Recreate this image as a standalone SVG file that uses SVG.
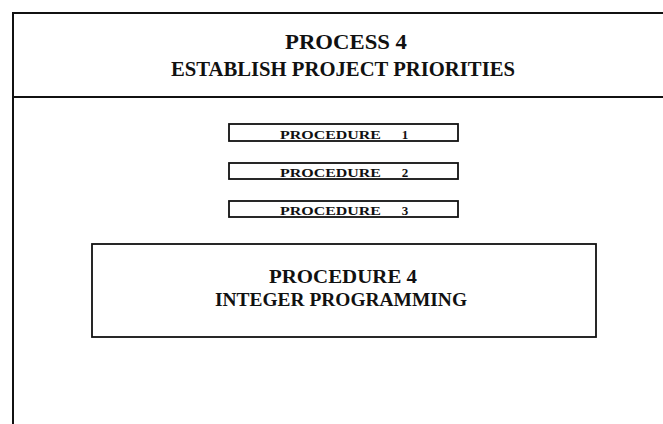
<svg xmlns="http://www.w3.org/2000/svg" width="663" height="424" viewBox="0 0 663 424">
<style>
.ln{stroke:#111;stroke-width:2;fill:none}
.box{stroke:#111;stroke-width:1.8;fill:#fff}
.t{font-family:"Liberation Serif",serif;font-weight:bold;fill:#111;text-anchor:middle}
.title{font-size:21px}
.sm{font-size:13px}
.big{font-size:19.5px}
</style>
<rect width="663" height="424" fill="#fff"/>
<g id="frame">
<path class="ln" d="M13,424 V13 H663"/>
<path class="ln" d="M13,97 H663"/>
</g>
<g id="process4">
<text class="t title" x="346" y="49" textLength="122" lengthAdjust="spacingAndGlyphs">PROCESS 4</text>
<text class="t title" x="343" y="76" textLength="344" lengthAdjust="spacingAndGlyphs">ESTABLISH PROJECT PRIORITIES</text>
</g>
<g id="procedure1">
<rect class="box" x="229" y="124" width="229" height="17"/>
<text class="t sm" x="330.5" y="138.5" textLength="101" lengthAdjust="spacingAndGlyphs">PROCEDURE</text>
<text class="t sm" x="405" y="138.5">1</text>
</g>
<g id="procedure2">
<rect class="box" x="229" y="163" width="229" height="16"/>
<text class="t sm" x="330.5" y="176.5" textLength="101" lengthAdjust="spacingAndGlyphs">PROCEDURE</text>
<text class="t sm" x="405" y="176.5">2</text>
</g>
<g id="procedure3">
<rect class="box" x="229" y="201" width="229" height="16"/>
<text class="t sm" x="330.5" y="214.5" textLength="101" lengthAdjust="spacingAndGlyphs">PROCEDURE</text>
<text class="t sm" x="405" y="214.5">3</text>
</g>
<g id="procedure4">
<rect class="box" x="92" y="244" width="504" height="93"/>
<text class="t big" x="343" y="283" textLength="148" lengthAdjust="spacingAndGlyphs">PROCEDURE 4</text>
<text class="t big" x="341" y="306" textLength="252" lengthAdjust="spacingAndGlyphs">INTEGER PROGRAMMING</text>
</g>
<g id="connectors"/>
</svg>
